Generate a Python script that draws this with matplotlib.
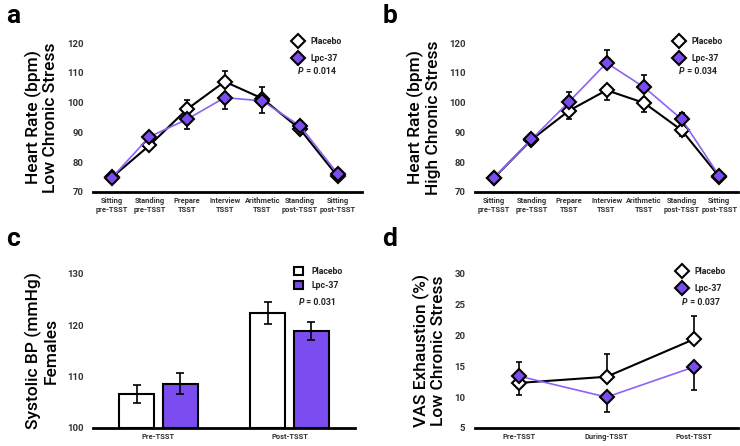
import matplotlib.pyplot as plt
import numpy as np

plt.rcParams['font.family'] = ['Roboto', 'DejaVu Sans']

PURPLE = '#7b4cf0'
LINE_PURPLE = '#8d63f5'
BOLD_FONT = ['Roboto', 'DejaVu Sans']

# panel a / b categories
hr_labels = ["Sitting\npre-TSST", "Standing\npre-TSST", "Prepare\nTSST", "Interview\nTSST",
             "Arithmetic\nTSST", "Standing\npost-TSST", "Sitting\npost-TSST"]

a_placebo = [74.8, 85.6, 97.8, 107.1, 101.4, 91.1, 75.2]
a_placebo_err = [1.0, 1.2, 3.0, 3.6, 3.9, 1.5, 1.0]
a_lpc = [74.7, 88.5, 94.4, 101.7, 100.6, 92.2, 76.1]
a_lpc_err = [1.0, 1.2, 3.4, 4.0, 4.0, 1.5, 1.0]

b_placebo = [74.6, 87.5, 97.3, 104.2, 99.9, 90.7, 75.1]
b_placebo_err = [1.0, 1.0, 2.8, 3.4, 3.0, 2.0, 1.0]
b_lpc = [74.6, 87.6, 100.3, 113.4, 105.2, 94.4, 75.3]
b_lpc_err = [1.0, 1.0, 3.4, 4.3, 4.0, 2.2, 1.5]

# panel c
bp_labels = ["Pre-TSST", "Post-TSST"]
c_placebo = [106.7, 122.4]
c_placebo_err = [1.75, 2.1]
c_lpc = [108.6, 118.9]
c_lpc_err = [2.0, 1.75]

# panel d
vas_labels = ["Pre-TSST", "During-TSST", "Post-TSST"]
d_placebo = [12.3, 13.3, 19.4]
d_placebo_err = [2.0, 3.7, 3.8]
d_lpc = [13.4, 10.0, 14.9]
d_lpc_err = [2.3, 2.4, 3.7]

fig = plt.figure(figsize=(7.4, 4.46), dpi=100)
ax_a = fig.add_axes([0.1257, 0.5702, 0.3635, 0.3327])
ax_b = fig.add_axes([0.642, 0.5702, 0.3554, 0.3327])
ax_c = fig.add_axes([0.1257, 0.0404, 0.354, 0.346])
ax_d = fig.add_axes([0.642, 0.0404, 0.3554, 0.346])


def style(ax, ylim, yticks, xlabels, ylabel):
    for s in ['top', 'right', 'left']:
        ax.spines[s].set_visible(False)
    ax.spines['bottom'].set_linewidth(2)
    ax.set_ylim(*ylim)
    ax.set_yticks(yticks)
    ax.set_xticks(range(len(xlabels)))
    ax.set_xticklabels(xlabels, fontsize=5.4, fontweight='bold', color='#333333',
                       linespacing=1.25, family=BOLD_FONT)
    ax.tick_params(axis='both', length=0)
    ax.tick_params(axis='y', pad=7)
    for t in ax.get_yticklabels():
        t.set_fontweight('bold')
        t.set_family(BOLD_FONT)
        t.set_fontsize(6.8)
        t.set_color('#333333')
    ax.set_ylabel(ylabel, fontsize=12.5, linespacing=1.1, labelpad=6, fontweight='medium')


def one_sided(placebo, p_err, lpc, l_err):
    p = np.array(placebo)
    l = np.array(lpc)
    up = p >= l
    p_yerr = [np.where(up, 0, p_err), np.where(up, p_err, 0)]
    l_yerr = [np.where(up, l_err, 0), np.where(up, 0, l_err)]
    return p_yerr, l_yerr


def line_panel(ax, placebo, p_err, lpc, l_err, ms=6.8):
    x = np.arange(len(placebo))
    p_yerr, l_yerr = one_sided(placebo, p_err, lpc, l_err)
    ax.errorbar(x, placebo, yerr=p_yerr, fmt='none', ecolor='black', elinewidth=1.2,
                capsize=2.5, capthick=1.2, zorder=2)
    ax.errorbar(x, lpc, yerr=l_yerr, fmt='none', ecolor='black', elinewidth=1.2,
                capsize=2.5, capthick=1.2, zorder=2)
    ax.plot(x, placebo, color='black', lw=1.5, marker='D', ms=ms, mfc='white',
            mec='black', mew=1.5, zorder=3, label='Placebo')
    ax.plot(x, lpc, color=LINE_PURPLE, lw=1.2, marker='D', ms=ms, mfc=PURPLE,
            mec='black', mew=1.5, zorder=4, label='Lpc-37')


def legend(ax, pval, x, hh=0.7, hl=1.0):
    leg = ax.legend(loc='upper left', bbox_to_anchor=(x, 1.065), frameon=False,
                    prop={'size': 6.3, 'weight': 'bold', 'family': BOLD_FONT}, handlelength=hl,
                    handleheight=hh, handletextpad=0.9, labelspacing=0.85 - (hh - 0.7),
                    borderaxespad=0)
    for t in leg.get_texts():
        t.set_color('#222222')
    ax.annotate('P', xy=(x + 0.03, 0.81), xycoords='axes fraction', fontsize=6.3,
                fontweight='bold', fontstyle='italic', family=BOLD_FONT, color='#222222',
                va='center')
    ax.annotate(' = ' + pval, xy=(x + 0.03, 0.81), xycoords='axes fraction',
                xytext=(4.2, 0), textcoords='offset points', fontsize=6.3, fontweight='bold',
                family=BOLD_FONT, color='#222222', va='center')


# a
line_panel(ax_a, a_placebo, a_placebo_err, a_lpc, a_lpc_err)
style(ax_a, (70, 120), range(70, 121, 10), hr_labels, "Heart Rate (bpm)\nLow Chronic Stress")
ax_a.set_xlim(-0.5, 6.65)
legend(ax_a, '0.014', 0.733)

# b
line_panel(ax_b, b_placebo, b_placebo_err, b_lpc, b_lpc_err)
style(ax_b, (70, 120), range(70, 121, 10), hr_labels, "Heart Rate (bpm)\nHigh Chronic Stress")
ax_b.set_xlim(-0.5, 6.5)
legend(ax_b, '0.034', 0.745)

# c
xc = np.arange(len(bp_labels))
w = 0.27
ax_c.bar(xc - 0.167, np.array(c_placebo) - 100, w, bottom=100, color='white', edgecolor='black',
         lw=1.5, yerr=c_placebo_err, capsize=3, error_kw={'elinewidth': 1.2, 'capthick': 1.2},
         label='Placebo', zorder=2)
ax_c.bar(xc + 0.167, np.array(c_lpc) - 100, w, bottom=100, color=PURPLE, edgecolor='black',
         lw=1.5, yerr=c_lpc_err, capsize=3, error_kw={'elinewidth': 1.2, 'capthick': 1.2},
         label='Lpc-37', zorder=2)
style(ax_c, (100, 130), range(100, 131, 10), bp_labels, "Systolic BP (mmHg)\nFemales")
ax_c.set_xlim(-0.5, 1.5)
legend(ax_c, '0.031', 0.755, hh=1.05, hl=1.05)

# d
line_panel(ax_d, d_placebo, d_placebo_err, d_lpc, d_lpc_err)
style(ax_d, (5, 30), range(5, 31, 5), vas_labels, "VAS Exhaustion (%)\nLow Chronic Stress")
ax_d.set_xlim(-0.5, 2.5)
legend(ax_d, '0.037', 0.757)

for ax, lab in [(ax_a, 'a'), (ax_b, 'b'), (ax_c, 'c'), (ax_d, 'd')]:
    pos = ax.get_position()
    fx = 0.008 if pos.x0 < 0.5 else 0.517
    fy = 0.992 if pos.y0 > 0.5 else 0.492
    fig.text(fx, fy, lab, fontsize=19, fontweight='bold', va='top', ha='left', family=BOLD_FONT)

fig.savefig('out.png', dpi=100)
